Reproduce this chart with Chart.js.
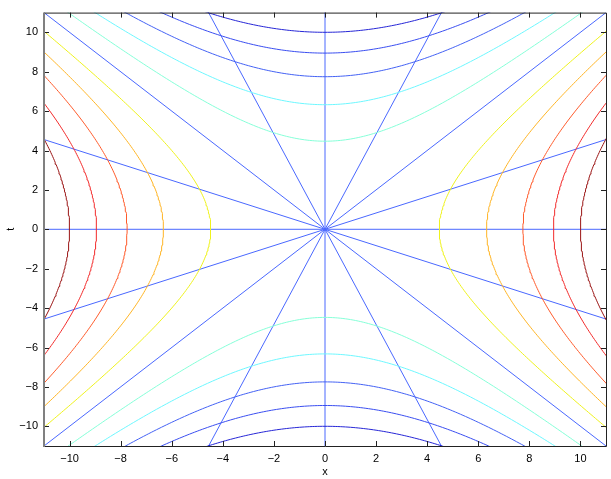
<!DOCTYPE html>
<html>
<head>
<meta charset="utf-8">
<script src="https://cdn.jsdelivr.net/npm/chart.js@4/dist/chart.umd.min.js"></script>
<style>
  html, body { margin: 0; padding: 0; background: #fff; }
  #c { display: block; }
</style>
</head>
<body>
<canvas id="c" width="611" height="479"></canvas>
<script>
// Contour levels of x^2 - t^2 and their colours (jet-like)
const levels = [-100, -80, -60, -40, -20, 20, 40, 60, 80, 100];
const levelColors = [
  "#2626d6", "#3a4ef0", "#4462f4", "#6ef7ff", "#86ffd8",
  "#eef21c", "#ffb424", "#ff5a2a", "#f22a2a", "#9a1414",
];
// Radial lines through the origin (degrees)
const rayAngles = [0, 22.5, 45, 67.5, 90, 112.5, 135, 157.5];
const rayColor = "#4a68ff";
// Axis ticks
const tickVals = [-10, -8, -6, -4, -2, 0, 2, 4, 6, 8, 10];
const axisMin = -11, axisMax = 11;

const fmt = (v) => String(v).replace("-", "\u2212");

// hyperbola branches for one level
function branches(c) {
  const s = [];
  for (let i = -130; i <= 130; i++) s.push(i / 10);
  if (c > 0) {
    return [1, -1].map((sg) => s.map((t) => ({ x: sg * Math.sqrt(c + t * t), y: t })));
  }
  return [1, -1].map((sg) => s.map((x) => ({ x: x, y: sg * Math.sqrt(-c + x * x) })));
}

const datasets = [];
levels.forEach((c, i) => {
  branches(c).forEach((pts) => {
    datasets.push({ data: pts, borderColor: levelColors[i], borderWidth: 1 });
  });
});
rayAngles.forEach((a) => {
  const r = 20, rad = (a * Math.PI) / 180;
  datasets.push({
    data: [
      { x: -r * Math.cos(rad), y: -r * Math.sin(rad) },
      { x: r * Math.cos(rad), y: r * Math.sin(rad) },
    ],
    borderColor: rayColor,
    borderWidth: 1,
  });
});

// frame and inward ticks, MATLAB style
const frame = {
  id: "frame",
  afterDatasetsDraw(chart) {
    const { ctx, chartArea: a, scales } = chart;
    ctx.save();
    ctx.strokeStyle = "#222";
    ctx.lineWidth = 1;
    ctx.beginPath();
    tickVals.forEach((v) => {
      const px = Math.round(scales.x.getPixelForValue(v)) + 0.5;
      ctx.moveTo(px, a.bottom); ctx.lineTo(px, a.bottom - 5);
      ctx.moveTo(px, a.top); ctx.lineTo(px, a.top + 5);
      const py = Math.round(scales.y.getPixelForValue(v)) + 0.5;
      ctx.moveTo(a.left, py); ctx.lineTo(a.left + 5, py);
      ctx.moveTo(a.right, py); ctx.lineTo(a.right - 5, py);
    });
    ctx.stroke();
    ctx.beginPath();
    ctx.moveTo(a.left, a.top + 0.5); ctx.lineTo(a.right + 0.5, a.top + 0.5);
    ctx.lineTo(a.right + 0.5, a.bottom + 0.5); ctx.lineTo(a.left, a.bottom + 0.5);
    ctx.stroke();
    ctx.strokeStyle = "#808080";
    ctx.lineWidth = 2;
    ctx.beginPath();
    ctx.moveTo(a.left, a.top); ctx.lineTo(a.left, a.bottom + 1);
    ctx.stroke();
    ctx.restore();
  },
};

const font = { family: "'Liberation Sans', Arial, sans-serif", size: 11 };

new Chart(document.getElementById("c"), {
  type: "scatter",
  data: { datasets },
  options: {
    responsive: false,
    animation: false,
    showLine: true,
    elements: { point: { radius: 0 }, line: { tension: 0 } },
    layout: { padding: { top: 11, right: 5, left: 0, bottom: 0 } },
    plugins: { legend: { display: false }, tooltip: { enabled: false } },
    scales: {
      x: {
        min: axisMin, max: axisMax,
        grid: { display: false, drawTicks: false },
        border: { display: false },
        afterBuildTicks: (s) => { s.ticks = tickVals.map((v) => ({ value: v })); },
        afterFit: (s) => { s.height = 33; },
        ticks: { color: "#000", font, padding: 6, maxRotation: 0, callback: fmt },
        title: { display: true, text: "x", color: "#000", font, padding: 0 },
      },
      y: {
        min: axisMin, max: axisMax,
        grid: { display: false, drawTicks: false },
        border: { display: false },
        afterBuildTicks: (s) => { s.ticks = tickVals.map((v) => ({ value: v })); },
        afterFit: (s) => { s.width = 44; },
        ticks: { color: "#000", font, padding: 6, callback: fmt },
        title: { display: true, text: "t", color: "#000", font, padding: 4 },
      },
    },
  },
  plugins: [frame],
});
</script>
</body>
</html>
